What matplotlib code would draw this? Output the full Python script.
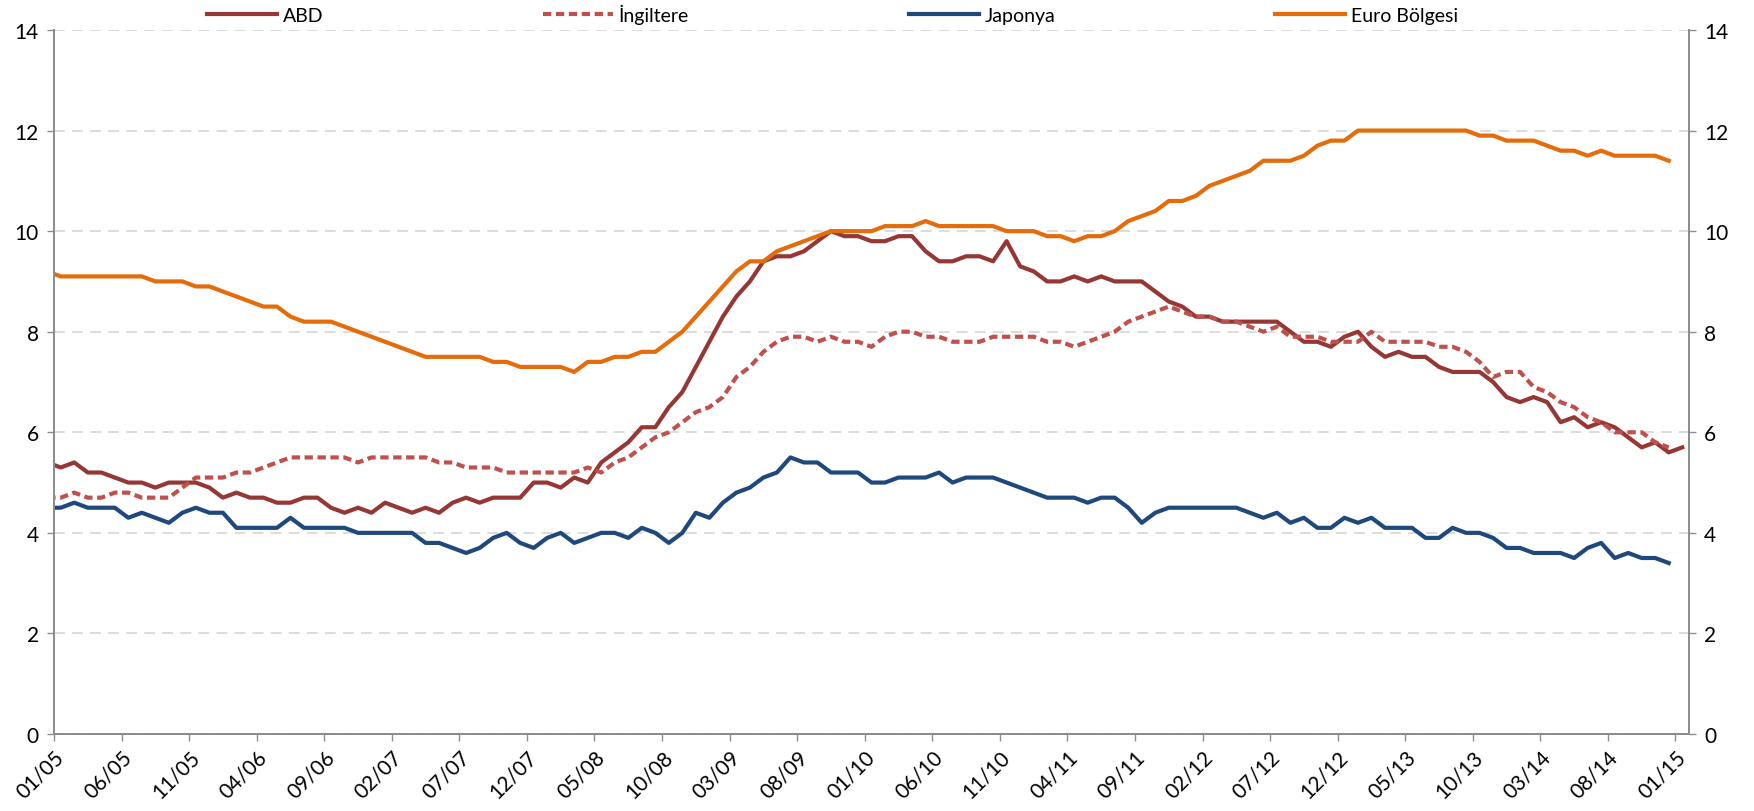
import numpy as np
import matplotlib
matplotlib.use("Agg")
import matplotlib.pyplot as plt

plt.rcParams['font.family'] = ['Lato', 'DejaVu Sans']

# monthly values, first value is 12/04 (sits just left of the axis)
abd = [5.4, 5.3, 5.4, 5.2, 5.2, 5.1, 5.0, 5.0, 4.9, 5.0, 5.0, 5.0, 4.9,
       4.7, 4.8, 4.7, 4.7, 4.6, 4.6, 4.7, 4.7, 4.5, 4.4, 4.5, 4.4,
       4.6, 4.5, 4.4, 4.5, 4.4, 4.6, 4.7, 4.6, 4.7, 4.7, 4.7, 5.0,
       5.0, 4.9, 5.1, 5.0, 5.4, 5.6, 5.8, 6.1, 6.1, 6.5, 6.8, 7.3,
       7.8, 8.3, 8.7, 9.0, 9.4, 9.5, 9.5, 9.6, 9.8, 10.0, 9.9, 9.9,
       9.8, 9.8, 9.9, 9.9, 9.6, 9.4, 9.4, 9.5, 9.5, 9.4, 9.8, 9.3,
       9.2, 9.0, 9.0, 9.1, 9.0, 9.1, 9.0, 9.0, 9.0, 8.8, 8.6, 8.5,
       8.3, 8.3, 8.2, 8.2, 8.2, 8.2, 8.2, 8.0, 7.8, 7.8, 7.7, 7.9,
       8.0, 7.7, 7.5, 7.6, 7.5, 7.5, 7.3, 7.2, 7.2, 7.2, 7.0, 6.7,
       6.6, 6.7, 6.6, 6.2, 6.3, 6.1, 6.2, 6.1, 5.9, 5.7, 5.8, 5.6, 5.7]

ingiltere = [4.7, 4.7, 4.8, 4.7, 4.7, 4.8, 4.8, 4.7, 4.7, 4.7, 4.9, 5.1, 5.1,
             5.1, 5.2, 5.2, 5.3, 5.4, 5.5, 5.5, 5.5, 5.5, 5.5, 5.4, 5.5,
             5.5, 5.5, 5.5, 5.5, 5.4, 5.4, 5.3, 5.3, 5.3, 5.2, 5.2, 5.2,
             5.2, 5.2, 5.2, 5.3, 5.2, 5.4, 5.5, 5.7, 5.9, 6.0, 6.2, 6.4,
             6.5, 6.7, 7.1, 7.3, 7.6, 7.8, 7.9, 7.9, 7.8, 7.9, 7.8, 7.8,
             7.7, 7.9, 8.0, 8.0, 7.9, 7.9, 7.8, 7.8, 7.8, 7.9, 7.9, 7.9,
             7.9, 7.8, 7.8, 7.7, 7.8, 7.9, 8.0, 8.2, 8.3, 8.4, 8.5, 8.4,
             8.3, 8.3, 8.2, 8.2, 8.1, 8.0, 8.1, 7.9, 7.9, 7.9, 7.8, 7.8,
             7.8, 8.0, 7.8, 7.8, 7.8, 7.8, 7.7, 7.7, 7.6, 7.4, 7.1, 7.2,
             7.2, 6.9, 6.8, 6.6, 6.5, 6.3, 6.2, 6.0, 6.0, 6.0, 5.8, 5.7]

japonya = [4.5, 4.5, 4.6, 4.5, 4.5, 4.5, 4.3, 4.4, 4.3, 4.2, 4.4, 4.5, 4.4,
           4.4, 4.1, 4.1, 4.1, 4.1, 4.3, 4.1, 4.1, 4.1, 4.1, 4.0, 4.0,
           4.0, 4.0, 4.0, 3.8, 3.8, 3.7, 3.6, 3.7, 3.9, 4.0, 3.8, 3.7,
           3.9, 4.0, 3.8, 3.9, 4.0, 4.0, 3.9, 4.1, 4.0, 3.8, 4.0, 4.4,
           4.3, 4.6, 4.8, 4.9, 5.1, 5.2, 5.5, 5.4, 5.4, 5.2, 5.2, 5.2,
           5.0, 5.0, 5.1, 5.1, 5.1, 5.2, 5.0, 5.1, 5.1, 5.1, 5.0, 4.9,
           4.8, 4.7, 4.7, 4.7, 4.6, 4.7, 4.7, 4.5, 4.2, 4.4, 4.5, 4.5,
           4.5, 4.5, 4.5, 4.5, 4.4, 4.3, 4.4, 4.2, 4.3, 4.1, 4.1, 4.3,
           4.2, 4.3, 4.1, 4.1, 4.1, 3.9, 3.9, 4.1, 4.0, 4.0, 3.9, 3.7,
           3.7, 3.6, 3.6, 3.6, 3.5, 3.7, 3.8, 3.5, 3.6, 3.5, 3.5, 3.4]

euro = [9.2, 9.1, 9.1, 9.1, 9.1, 9.1, 9.1, 9.1, 9.0, 9.0, 9.0, 8.9, 8.9,
        8.8, 8.7, 8.6, 8.5, 8.5, 8.3, 8.2, 8.2, 8.2, 8.1, 8.0, 7.9,
        7.8, 7.7, 7.6, 7.5, 7.5, 7.5, 7.5, 7.5, 7.4, 7.4, 7.3, 7.3,
        7.3, 7.3, 7.2, 7.4, 7.4, 7.5, 7.5, 7.6, 7.6, 7.8, 8.0, 8.3,
        8.6, 8.9, 9.2, 9.4, 9.4, 9.6, 9.7, 9.8, 9.9, 10.0, 10.0, 10.0,
        10.0, 10.1, 10.1, 10.1, 10.2, 10.1, 10.1, 10.1, 10.1, 10.1, 10.0, 10.0,
        10.0, 9.9, 9.9, 9.8, 9.9, 9.9, 10.0, 10.2, 10.3, 10.4, 10.6, 10.6,
        10.7, 10.9, 11.0, 11.1, 11.2, 11.4, 11.4, 11.4, 11.5, 11.7, 11.8, 11.8,
        12.0, 12.0, 12.0, 12.0, 12.0, 12.0, 12.0, 12.0, 12.0, 11.9, 11.9, 11.8,
        11.8, 11.8, 11.7, 11.6, 11.6, 11.5, 11.6, 11.5, 11.5, 11.5, 11.5, 11.4]

tick_labels = ["01/05", "06/05", "11/05", "04/06", "09/06", "02/07", "07/07",
               "12/07", "05/08", "10/08", "03/09", "08/09", "01/10", "06/10",
               "11/10", "04/11", "09/11", "02/12", "07/12", "12/12", "05/13",
               "10/13", "03/14", "08/14", "01/15"]

# month positions: 0 = start of 01/05, points sit mid-month
def xpos(vals):
    return np.arange(len(vals)) - 0.5

fig = plt.figure(figsize=(17.54, 8.12), dpi=100)
ax = fig.add_axes([54 / 1754, 1 - 735 / 812, (1689 - 54) / 1754, (735 - 31) / 812])

lw = 3.0
l1, = ax.plot(xpos(abd), abd, color="#953735", lw=lw, label="ABD", solid_joinstyle="round")
l2, = ax.plot(xpos(ingiltere), ingiltere, color="#C0504D", lw=lw, ls=(0, (2.0, 1.1)),
              label="İngiltere", dash_capstyle="butt")
l3, = ax.plot(xpos(japonya), japonya, color="#1F497D", lw=lw, label="Japonya", solid_joinstyle="round")
l4, = ax.plot(xpos(euro), euro, color="#E46C0A", lw=lw, label="Euro Bölgesi", solid_joinstyle="round")

ax.set_xlim(0, 121)
ax.set_ylim(0, 14)
ax.set_yticks(np.arange(0, 15, 2))
ax.set_xticks(np.arange(0, 121, 5))
ax.set_xticklabels(tick_labels, rotation=45, ha="right", va="top", rotation_mode="anchor")
ax.grid(axis="y", color="#D9D9D9", lw=1.3, ls=(0, (6, 4)))
ax.set_axisbelow(True)

ax2 = ax.twinx()
ax2.set_ylim(0, 14)
ax2.set_yticks(np.arange(0, 15, 2))

gray = "#8C8C8C"
for a in (ax, ax2):
    a.spines["top"].set_visible(False)
    for s in ("left", "right", "bottom"):
        a.spines[s].set_color(gray)
        a.spines[s].set_linewidth(1.3)
    a.tick_params(colors=gray, labelcolor="black", labelsize=15, length=5, width=1.0)
ax.tick_params(axis="y", pad=6)
ax2.tick_params(axis="y", pad=6)
ax.tick_params(axis="x", pad=4)

fig.legend(handles=[l1, l2, l3, l4], ncol=4, frameon=False, fontsize=14,
           loc="center left", bbox_to_anchor=(207 / 1754, 1 - 15 / 812),
           borderpad=0, borderaxespad=0, handlelength=3.6, handletextpad=0.3,
           columnspacing=11.3)

fig.savefig("out.png", dpi=100)
